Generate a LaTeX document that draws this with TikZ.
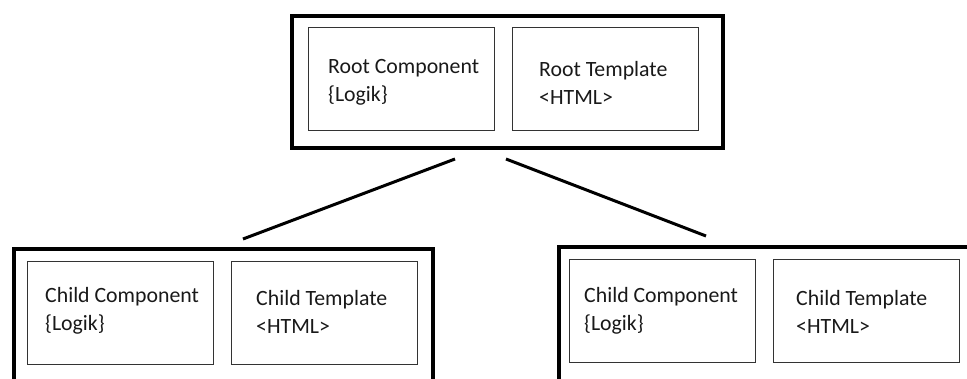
\documentclass[tikz,border=0pt]{standalone}
\usepackage{fontspec}
\setmainfont{Carlito}
\begin{document}
\begin{tikzpicture}[x=1pt,y=-1pt,
  outerbox/.style={draw=black, line width=4pt, inner sep=0pt, anchor=north west},
  innerbox/.style={draw=black!80, line width=1.3pt, inner sep=0pt, anchor=north west,
                   minimum width=186pt, minimum height=103pt},
  lbl/.style={anchor=west, align=left, inner sep=0pt, text=black!90,
              font=\fontsize{21.8}{28}\selectfont},
  link/.style={line width=3pt}]
\useasboundingbox (0,0) rectangle (967,379);
\clip (0,0) rectangle (967,379);

% root container
\node[outerbox, minimum width=431pt, minimum height=132pt] (root) at (290,14) {};
\node[innerbox] (rc) at (308,27) {};
\node[innerbox] (rt) at (512,27) {};
\node[lbl] (rcl) at (328,82.5) {Root Component\\\{Logik\}};
\node[lbl] (rtl) at (539,82.5) {Root Template\\<HTML>};

% left child container
\node[outerbox, minimum width=419pt, minimum height=160pt] (ca) at (12,247) {};
\node[innerbox] (cac) at (27,261) {};
\node[innerbox] (cat) at (231,261) {};
\node[lbl] (cacl) at (45,311) {Child Component\\\{Logik\}};
\node[lbl] (catl) at (256,312) {Child Template\\<HTML>};

% right child container
\node[outerbox, minimum width=420pt, minimum height=160pt] (cb) at (557,245.5) {};
\node[innerbox] (cbc) at (569,259) {};
\node[innerbox] (cbt) at (773,259) {};
\node[lbl] (cbcl) at (584,311) {Child Component\\\{Logik\}};
\node[lbl] (cbtl) at (796,312) {Child Template\\<HTML>};

% connectors
\coordinate (ra) at (455,159);
\coordinate (rb) at (506,159);
\coordinate (ta) at (243,239);
\coordinate (tb) at (706,236);
\draw[link] (ra) -- (ta);
\draw[link] (rb) -- (tb);
\end{tikzpicture}
\end{document}
